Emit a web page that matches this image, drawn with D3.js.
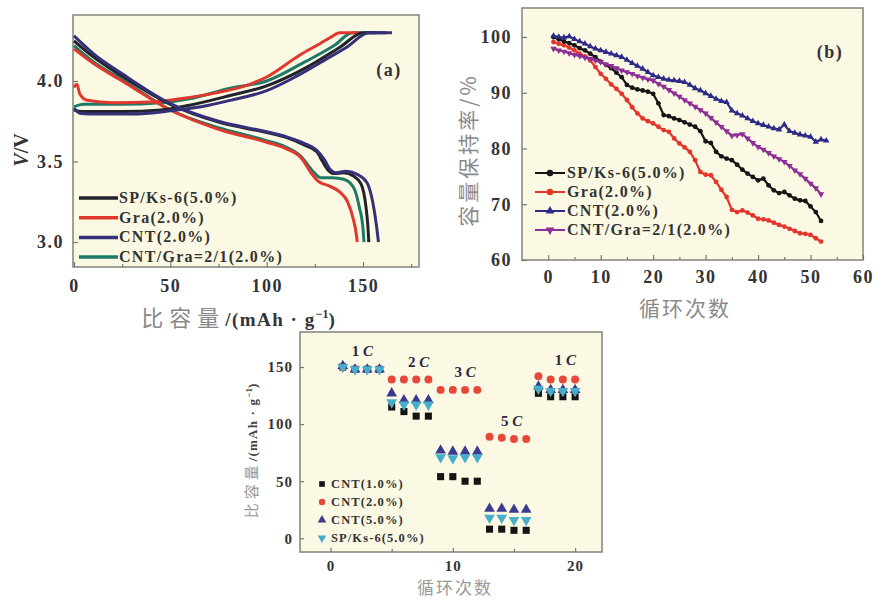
<!DOCTYPE html>
<html>
<head>
<meta charset="utf-8">
<script src="https://cdn.jsdelivr.net/npm/d3@7"></script>
<style>
  body { margin: 0; background: #fff; }
  svg { display: block; }
</style>
</head>
<body>
<svg></svg>
<script>
// ---- (a) charge / discharge curves: [capacity mAh/g, voltage V]
const spCharge = [[0,3.82],[4,3.81],[25,3.81],[45,3.82],[60,3.85],[81,3.91],[100,3.97],[120,4.08],[138,4.21],[150,4.30],[162,4.30]];
const graCharge = [[0,3.96],[1.5,3.98],[3,3.92],[7,3.88],[20,3.865],[40,3.87],[55,3.89],[73,3.925],[90,3.975],[100,4.025],[117,4.16],[128,4.235],[133,4.27],[138,4.30],[148,4.30]];
const cntCharge = [[0,3.83],[3,3.80],[8,3.795],[30,3.795],[50,3.815],[70,3.85],[81,3.88],[100,3.94],[115.5,4.03],[130,4.13],[141.5,4.21],[153,4.30],[165,4.30]];
const mixCharge = [[0,3.84],[5,3.855],[25,3.855],[45,3.865],[60,3.89],[81,3.955],[100,4.00],[120,4.12],[135,4.22],[144.5,4.30],[157,4.30]];

const spDischarge = [[0,4.25],[10,4.15],[25,4.03],[50,3.855],[75,3.745],[100,3.68],[110,3.65],[120,3.60],[126,3.56],[129,3.50],[132,3.445],[135,3.425],[140,3.43],[145,3.41],[149,3.36],[151.5,3.22],[152.5,3.10],[153,3.0]];
const graDischarge = [[0,4.20],[10,4.11],[25,4.00],[50,3.82],[75,3.70],[100,3.62],[110,3.58],[118,3.52],[123,3.43],[127,3.375],[132,3.35],[138,3.31],[142,3.25],[145,3.14],[146.5,3.05],[147,3.0]];
const cntDischarge = [[0,4.28],[10,4.17],[25,4.045],[50,3.86],[75,3.75],[100,3.685],[110,3.655],[120,3.61],[126,3.57],[130,3.51],[133,3.45],[136,3.43],[141,3.44],[147,3.42],[152,3.37],[155,3.25],[157,3.10],[158,3.0]];
const mixDischarge = [[0,4.22],[10,4.12],[25,4.01],[50,3.82],[75,3.71],[100,3.63],[110,3.59],[118,3.53],[124,3.44],[128,3.40],[134,3.40],[140,3.39],[145,3.34],[148,3.22],[150,3.08],[150.5,3.0]];

// ---- (b) capacity retention (%) by cycle, starting at cycle 1
const spRetention = [100,99.6,99.2,98.9,98.5,98.0,97.6,97.0,96.4,95.6,95.0,94.4,93.6,92.8,91.4,90.9,90.6,90.4,90.2,89.8,88.1,86.0,85.8,85.4,85.1,84.7,84.3,83.9,83.1,81.3,81.0,79.4,78.6,78.2,77.9,77.1,76.2,75.5,74.9,74.3,74.6,73.4,72.5,72.0,72.2,71.6,71.0,70.7,70.6,69.6,68.6,67.0];
const graRetention = [99.1,98.8,98.5,98.1,97.6,97.0,96.5,95.8,94.6,93.4,92.5,91.5,90.7,89.8,88.7,87.4,86.3,85.4,84.9,84.5,83.9,83.3,83.0,81.8,80.9,80.2,79.4,77.9,75.8,75.3,75.2,74.0,72.6,71.3,69.0,68.6,68.9,68.5,68.0,67.4,67.3,67.1,66.7,66.3,66.0,65.6,65.2,64.8,64.7,64.5,63.9,63.3];
const cntRetention = [100.2,100.0,99.9,100.1,99.6,99.2,98.8,98.3,97.9,97.6,97.3,97.0,96.7,96.4,95.9,95.3,94.8,94.3,93.7,93.1,92.8,92.5,92.3,92.2,92.1,91.9,91.4,90.8,90.4,89.9,89.4,88.9,88.5,88.3,86.8,86.3,85.9,85.4,84.9,84.5,84.2,83.9,83.6,83.4,84.3,83.1,82.8,82.5,82.3,82.1,81.2,81.6,81.4];
const mixRetention = [97.9,97.6,97.4,97.1,96.8,96.6,96.3,96.1,95.8,95.5,95.1,94.8,94.4,94.0,93.7,93.4,93.0,92.7,92.4,92.2,91.6,91.1,90.5,89.9,89.3,88.7,88.1,87.5,86.9,86.3,85.5,84.7,83.9,83.1,82.3,82.4,82.6,81.8,81.0,80.3,79.8,79.2,78.6,78.1,77.6,76.9,76.1,75.4,74.6,73.7,72.9,71.8];

// ---- (c) rate capability, specific capacity (mAh/g) for cycles 1..20
const rateCycles = d3.range(1, 21);
const cnt1Rate = [150,148,148,148,115,111,107,107,54,54,50,50,8,8,7,7,127,124,124,124];
const cnt2Rate = [150,148,148,148,139,139,139,139,130,130,130,130,89,88,87,87,142,139,139,139];
const cnt5Rate = [151,148,148,148,127,121,121,121,77,76,76,76,26,26,25,25,133,130,130,130];
const spRate = [150,148,148,148,119,117,117,117,71,70,71,71,18,18,16,16,131,129,129,129];
const rateLabels = [["1", 2.6, 160], ["2", 7.2, 150], ["3", 11, 141], ["5", 14.8, 98], ["1", 19.2, 152]];

const svg = d3.select("svg").attr("width", 885).attr("height", 601);
const serif = "'Liberation Serif', 'DejaVu Serif', serif";
const cjk = "'Noto Sans CJK SC', sans-serif";
const bg = "#fbf9e3";

function frame(x0, y0, x1, y1) {
  svg.append("rect")
      .attr("x", x0).attr("y", y0)
      .attr("width", x1 - x0).attr("height", y1 - y0)
      .attr("fill", bg)
      .attr("stroke", "#8a8a80")
      .attr("stroke-width", 1.6);
}

function styleAxis(g, size, spacing) {
  g.select(".domain").remove();
  g.selectAll("line").attr("stroke", "#777").attr("stroke-width", 1.2);
  g.selectAll("text")
      .attr("font-family", serif)
      .attr("font-weight", "bold")
      .attr("font-size", size)
      .attr("letter-spacing", spacing || 0)
      .attr("fill", "#333");
}

// =================== (a) ===================
const xa = d3.scaleLinear().domain([0, 178]).range([74, 417]);
const ya = d3.scaleLinear().domain([2.845, 4.41]).range([267, 15]);
frame(73, 15, 419, 267);

svg.append("g").attr("transform", "translate(0,267)")
    .call(d3.axisBottom(xa).tickValues([0, 50, 100, 150]).tickSizeInner(-5).tickSizeOuter(0).tickPadding(12))
    .call(g => styleAxis(g, 18, 1.5));
svg.append("g").attr("transform", "translate(0,267)")
    .call(d3.axisBottom(xa).tickValues([25, 75, 125, 175]).tickSizeInner(-3).tickSizeOuter(0).tickFormat(""))
    .call(g => styleAxis(g, 18));
svg.append("g").attr("transform", "translate(73,0)")
    .call(d3.axisLeft(ya).tickValues([3.0, 3.5, 4.0]).tickFormat(d3.format(".1f")).tickSizeInner(-5).tickSizeOuter(0).tickPadding(9))
    .call(g => styleAxis(g, 18, 1.5));

const lineA = d3.line().x(d => xa(d[0])).y(d => ya(d[1])).curve(d3.curveMonotoneX);
const seriesA = [
  { name: "CNT/Gra=2/1(2.0%)", color: "#1e7a68", charge: mixCharge, discharge: mixDischarge },
  { name: "Gra(2.0%)", color: "#e0382c", charge: graCharge, discharge: graDischarge },
  { name: "SP/Ks-6(5.0%)", color: "#22222c", charge: spCharge, discharge: spDischarge },
  { name: "CNT(2.0%)", color: "#34307a", charge: cntCharge, discharge: cntDischarge }
];
seriesA.forEach(function(s) {
  [s.charge, s.discharge].forEach(function(arr) {
    svg.append("path").datum(arr)
        .attr("d", lineA)
        .attr("fill", "none")
        .attr("stroke", s.color)
        .attr("stroke-width", 3);
  });
});

const legendA = [seriesA[2], seriesA[1], seriesA[3], seriesA[0]];
legendA.forEach(function(s, i) {
  const y = 198 + i * 19.7;
  svg.append("line").attr("x1", 79).attr("x2", 118).attr("y1", y).attr("y2", y)
      .attr("stroke", s.color).attr("stroke-width", 3.5);
  svg.append("text").attr("x", 119).attr("y", y + 5)
      .attr("font-family", serif).attr("font-weight", "bold").attr("font-size", 16)
      .attr("letter-spacing", 1.3)
      .attr("fill", "#333").text(s.name);
});

svg.append("text").attr("x", 389).attr("y", 76)
    .attr("font-family", serif).attr("font-weight", "bold").attr("font-size", 18)
    .attr("letter-spacing", 1.5)
    .attr("text-anchor", "middle").attr("fill", "#333").text("(a)");

svg.append("text")
    .attr("transform", "translate(28,150) rotate(-90)")
    .attr("text-anchor", "middle")
    .attr("font-family", serif).attr("font-weight", "bold").attr("font-size", 20).attr("fill", "#333")
    .call(t => {
      t.append("tspan").attr("font-style", "italic").text("V");
      t.append("tspan").text("/V");
    });

const xTitleA = svg.append("text").attr("x", 238).attr("y", 326).attr("text-anchor", "middle");
xTitleA.append("tspan").attr("font-family", cjk).attr("font-size", 22).attr("letter-spacing", 6).attr("fill", "#888").text("比容量");
xTitleA.append("tspan").attr("font-family", serif).attr("font-weight", "bold").attr("font-size", 19).attr("letter-spacing", 1.5).attr("fill", "#333").text("/(mAh · g");
xTitleA.append("tspan").attr("font-family", serif).attr("font-weight", "bold").attr("font-size", 12).attr("fill", "#333").attr("dy", -8).text("−1");
xTitleA.append("tspan").attr("font-family", serif).attr("font-weight", "bold").attr("font-size", 19).attr("fill", "#333").attr("dy", 8).text(")");

// =================== (b) ===================
const xb = d3.scaleLinear().domain([-5, 60]).range([522, 863]);
const yb = d3.scaleLinear().domain([60, 105.2]).range([260, 8]);
frame(522, 8, 863, 260);

svg.append("g").attr("transform", "translate(0,260)")
    .call(d3.axisBottom(xb).tickValues(d3.range(0, 61, 10)).tickSizeInner(-5).tickSizeOuter(0).tickPadding(10))
    .call(g => styleAxis(g, 18, 1.5));
svg.append("g").attr("transform", "translate(0,260)")
    .call(d3.axisBottom(xb).tickValues(d3.range(5, 60, 10)).tickSizeInner(-3).tickSizeOuter(0).tickFormat(""))
    .call(g => styleAxis(g, 18));
svg.append("g").attr("transform", "translate(522,0)")
    .call(d3.axisLeft(yb).tickValues([60, 70, 80, 90, 100]).tickSizeInner(-5).tickSizeOuter(0).tickPadding(10))
    .call(g => styleAxis(g, 18, 1.5));

const seriesB = [
  { name: "SP/Ks-6(5.0%)", color: "#151515", sym: d3.symbolCircle, vals: spRetention },
  { name: "Gra(2.0%)", color: "#e5352b", sym: d3.symbolCircle, vals: graRetention },
  { name: "CNT(2.0%)", color: "#2d2a88", sym: d3.symbolTriangle, vals: cntRetention },
  { name: "CNT/Gra=2/1(2.0%)", color: "#8e2f96", sym: d3.symbolTriangle, vals: mixRetention, down: true }
];
const lineB = d3.line().x((d, i) => xb(i + 1)).y(d => yb(d));
[seriesB[1], seriesB[0], seriesB[3], seriesB[2]].forEach(function(s) {
  svg.append("path").datum(s.vals)
      .attr("d", lineB).attr("fill", "none")
      .attr("stroke", s.color).attr("stroke-width", 2.2);
  svg.append("g").selectAll("path").data(s.vals).join("path")
      .attr("d", d3.symbol().type(s.sym).size(18))
      .attr("transform", (d, i) => "translate(" + xb(i + 1) + "," + yb(d) + ")" + (s.down ? " rotate(180)" : ""))
      .attr("fill", s.color);
});

seriesB.forEach(function(s, i) {
  const y = 173 + i * 19;
  svg.append("line").attr("x1", 535).attr("x2", 565).attr("y1", y).attr("y2", y)
      .attr("stroke", s.color).attr("stroke-width", 2);
  svg.append("path").attr("d", d3.symbol().type(s.sym).size(32)())
      .attr("transform", "translate(550," + y + ")" + (s.down ? " rotate(180)" : ""))
      .attr("fill", s.color);
  svg.append("text").attr("x", 567).attr("y", y + 5)
      .attr("font-family", serif).attr("font-weight", "bold").attr("font-size", 16)
      .attr("letter-spacing", 1.3)
      .attr("fill", "#333").text(s.name);
});

svg.append("text").attr("x", 830).attr("y", 58)
    .attr("font-family", serif).attr("font-weight", "bold").attr("font-size", 18)
    .attr("letter-spacing", 1.5)
    .attr("text-anchor", "middle").attr("fill", "#333").text("(b)");

svg.append("text")
    .attr("transform", "translate(476,150) rotate(-90)")
    .attr("text-anchor", "middle")
    .attr("font-family", cjk).attr("font-size", 21).attr("letter-spacing", 3).attr("fill", "#8a8a8a")
    .text("容量保持率/%");
svg.append("text").attr("x", 685).attr("y", 316).attr("text-anchor", "middle")
    .attr("font-family", cjk).attr("font-size", 21).attr("letter-spacing", 2).attr("fill", "#8a8a8a").text("循环次数");

// =================== (c) ===================
const xc = d3.scaleLinear().domain([-2.5, 22.2]).range([300, 602]);
const yc = d3.scaleLinear().domain([-12, 180.7]).range([552, 332]);
frame(300, 332, 602, 552);

svg.append("g").attr("transform", "translate(0,552)")
    .call(d3.axisBottom(xc).tickValues([0, 10, 20]).tickSizeInner(-4).tickSizeOuter(0).tickPadding(8))
    .call(g => styleAxis(g, 15, 1));
svg.append("g").attr("transform", "translate(0,552)")
    .call(d3.axisBottom(xc).tickValues([5, 15]).tickSizeInner(-3).tickSizeOuter(0).tickFormat(""))
    .call(g => styleAxis(g, 15));
svg.append("g").attr("transform", "translate(300,0)")
    .call(d3.axisLeft(yc).tickValues([0, 50, 100, 150]).tickSizeInner(-4).tickSizeOuter(0).tickPadding(7))
    .call(g => styleAxis(g, 15, 1));

const seriesC = [
  { name: "CNT(1.0%)", color: "#141414", sym: d3.symbolSquare, vals: cnt1Rate },
  { name: "CNT(2.0%)", color: "#e8483a", sym: d3.symbolCircle, vals: cnt2Rate },
  { name: "CNT(5.0%)", color: "#3b3a8e", sym: d3.symbolTriangle, vals: cnt5Rate },
  { name: "SP/Ks-6(5.0%)", color: "#45aecb", sym: d3.symbolTriangle, vals: spRate, down: true }
];
seriesC.forEach(function(s) {
  svg.append("g").selectAll("path").data(s.vals).join("path")
      .attr("d", d3.symbol().type(s.sym).size(50))
      .attr("transform", (d, i) => "translate(" + xc(rateCycles[i]) + "," + yc(d) + ")" + (s.down ? " rotate(180)" : ""))
      .attr("fill", s.color);
});

seriesC.forEach(function(s, i) {
  const y = 484 + i * 18;
  svg.append("path").attr("d", d3.symbol().type(s.sym).size(32)())
      .attr("transform", "translate(322," + y + ")" + (s.down ? " rotate(180)" : ""))
      .attr("fill", s.color);
  svg.append("text").attr("x", 331).attr("y", y + 4)
      .attr("font-family", serif).attr("font-weight", "bold").attr("font-size", 12.5)
      .attr("letter-spacing", 1.1)
      .attr("fill", "#333").text(s.name);
});

rateLabels.forEach(function(r) {
  const t = svg.append("text").attr("x", xc(r[1])).attr("y", yc(r[2]))
      .attr("text-anchor", "middle")
      .attr("font-family", serif).attr("font-weight", "bold").attr("font-size", 15).attr("fill", "#2a2a40");
  t.append("tspan").text(r[0] + " ");
  t.append("tspan").attr("font-style", "italic").text("C");
});

const yTitleC = svg.append("text")
    .attr("transform", "translate(257,451) rotate(-90)")
    .attr("text-anchor", "middle");
yTitleC.append("tspan").attr("font-family", cjk).attr("font-size", 15).attr("letter-spacing", 4).attr("fill", "#999").text("比容量");
yTitleC.append("tspan").attr("font-family", serif).attr("font-weight", "bold").attr("font-size", 13).attr("letter-spacing", 1.2).attr("fill", "#444").text("/(mAh · g");
yTitleC.append("tspan").attr("font-family", serif).attr("font-weight", "bold").attr("font-size", 9).attr("fill", "#444").attr("dy", -5).text("−1");
yTitleC.append("tspan").attr("font-family", serif).attr("font-weight", "bold").attr("font-size", 13).attr("fill", "#444").attr("dy", 5).text(")");

svg.append("text").attr("x", 455).attr("y", 594).attr("text-anchor", "middle")
    .attr("font-family", cjk).attr("font-size", 17).attr("letter-spacing", 2).attr("fill", "#999").text("循环次数");
</script>
</body>
</html>
